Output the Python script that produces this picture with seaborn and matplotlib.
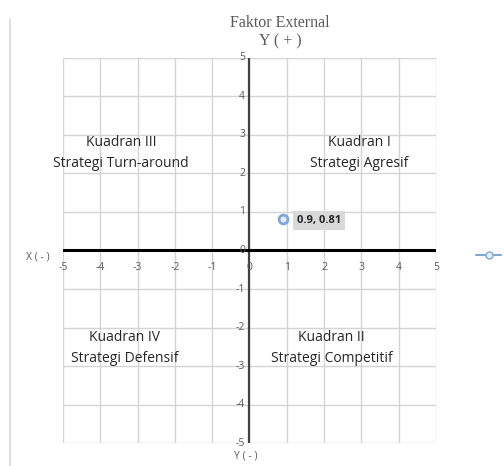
import matplotlib
matplotlib.use("Agg")
import matplotlib.pyplot as plt
import seaborn as sns
import pandas as pd
from matplotlib.lines import Line2D

# -----------------------------------------------------------------------------
# Dades
# -----------------------------------------------------------------------------
point_x = [0.9]
point_y = [0.81]
point_label = "0.9, 0.81"
ticks = [-5, -4, -3, -2, -1, 0, 1, 2, 3, 4, 5]

quad_names = ["Kuadran I\nStrategi Agresif", "Kuadran II\nStrategi Competitif",
              "Kuadran III\nStrategi Turn-around", "Kuadran IV\nStrategi Defensif"]
quad_x = [2.95, 2.2, -3.45, -3.35]
quad_y = [2.52, -2.54, 2.52, -2.54]

df = pd.DataFrame({"x": point_x, "y": point_y})

# -----------------------------------------------------------------------------
# Estil
# -----------------------------------------------------------------------------
sns.set_theme(style="white")
plt.rcParams['font.family'] = ['Open Sans', 'DejaVu Sans']

fig = plt.figure(figsize=(5.04, 4.66), dpi=100)
ax = fig.add_axes([0.125, 0.049, 0.74, 0.827])

grey_txt = "#595959"
blue = "#7fa6d8"

ax.set_xlim(-5, 5)
ax.set_ylim(-5, 5)
ax.set_xticks(ticks)
ax.set_yticks(ticks)
ax.grid(True, color="#d4d4d4", linewidth=1.0)
ax.tick_params(length=0, labelbottom=False, labelleft=False)
for s in ax.spines.values():
    s.set_visible(False)

ax.axvline(0, color="#404040", linewidth=1.6, zorder=2)
ax.axhline(0, color="black", linewidth=2.2, zorder=2)

# punt
sns.scatterplot(data=df, x="x", y="y", ax=ax, s=40, marker="o",
                facecolor="#e4ecf7", edgecolor=blue, linewidth=2, zorder=4,
                legend=False)
ax.set_xlabel("")
ax.set_ylabel("")
ax.annotate(point_label, (point_x[0], point_y[0]), xytext=(10, -1),
            textcoords="offset points", ha="left", va="center",
            fontsize=8, fontweight="bold", color="#262626",
            bbox=dict(boxstyle="square,pad=0.35", fc="#d9d9d9", ec="none"),
            zorder=5)

# etiquetes d'eixos
for t in ticks:
    ax.text(-0.12, t, str(t), ha="right", va="center", fontsize=7.5,
            color=grey_txt, zorder=3)
    ax.text(t, -0.45, str(t), ha="center", va="center", fontsize=7.5,
            color=grey_txt, zorder=3)

# textos de quadrants
for name, qx, qy in zip(quad_names, quad_x, quad_y):
    ax.text(qx, qy, name, ha="center", va="center", fontsize=10,
            color="#262626", linespacing=1.55)

# titols
fig.text(0.556, 0.931, "Faktor External\nY ( + )", ha="center", va="center",
         fontsize=11.5, color=grey_txt, family="Liberation Serif",
         linespacing=1.15)
fig.text(0.488, 0.022, "Y ( - )", ha="center", va="center", fontsize=7.5,
         color=grey_txt)
fig.text(0.075, 0.449, "X ( - )", ha="center", va="center", fontsize=7.5,
         color=grey_txt)

# vora esquerra
fig.add_artist(Line2D([0.02, 0.02], [0.0, 0.96], transform=fig.transFigure,
                      color="#d9d9d9", linewidth=1.2))

# llegenda (sense text)
handle = Line2D([], [], color=blue, marker="o", markersize=5,
                markerfacecolor="#e4ecf7", markeredgecolor=blue, linewidth=1.5)
fig.legend([handle], [""], loc="center left", bbox_to_anchor=(0.93, 0.449),
           frameon=False, handlelength=1.6, borderpad=0, handletextpad=0)

fig.savefig("out.png", dpi=100)
